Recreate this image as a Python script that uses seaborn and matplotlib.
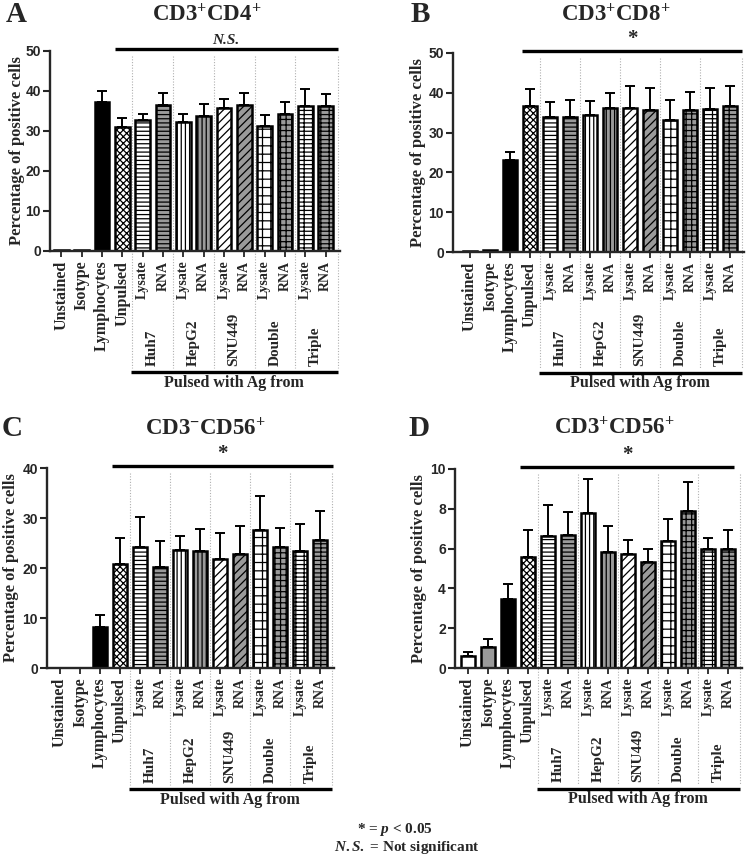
import numpy as np
import matplotlib.pyplot as plt
import seaborn as sns

sns.set_theme(style='ticks')
plt.rcParams['font.family'] = ['Liberation Serif', 'DejaVu Serif']
plt.rcParams['font.weight'] = 'bold'
plt.rcParams['mathtext.fontset'] = 'custom'
plt.rcParams['mathtext.rm'] = 'Liberation Serif:bold'
plt.rcParams['mathtext.it'] = 'Liberation Serif:italic:bold'
plt.rcParams['mathtext.bf'] = 'Liberation Serif:bold'
plt.rcParams['hatch.linewidth'] = 0.9

# data
categories = ['Unstained', 'Isotype', 'Lymphocytes', 'Unpulsed',
              'Huh7 Lysate', 'Huh7 RNA', 'HepG2 Lysate', 'HepG2 RNA',
              'SNU449 Lysate', 'SNU449 RNA', 'Double Lysate', 'Double RNA',
              'Triple Lysate', 'Triple RNA']
tick_labels = ['Unstained', 'Isotype', 'Lymphocytes', 'Unpulsed'] + ['Lysate', 'RNA'] * 5
groups = ['Huh7', 'HepG2', 'SNU449', 'Double', 'Triple']

cd4_mean = [0.2, 0.3, 37.3, 31.0, 32.7, 36.4, 32.3, 33.8, 35.8, 36.6, 31.3, 34.3, 36.3, 36.2]
cd4_sd = [0, 0, 2.7, 2.3, 1.6, 3.1, 2.0, 2.9, 2.3, 3.0, 2.6, 3.0, 4.3, 3.0]

cd8_mean = [0.2, 0.4, 23.1, 36.6, 33.8, 33.9, 34.5, 36.3, 36.3, 35.6, 33.1, 35.8, 36.0, 36.6]
cd8_sd = [0, 0, 2.1, 4.4, 4.0, 4.4, 3.4, 3.7, 5.5, 5.6, 5.2, 4.5, 5.2, 5.2]

nk_mean = [0.1, 0.1, 8.2, 20.9, 24.3, 20.2, 23.7, 23.4, 21.9, 22.9, 27.7, 24.2, 23.4, 25.7]
nk_sd = [0, 0, 2.5, 5.1, 6.0, 5.3, 2.8, 4.5, 5.2, 5.6, 6.7, 3.9, 5.5, 5.8]

nkt_mean = [0.59, 1.07, 3.45, 5.58, 6.65, 6.67, 7.78, 5.83, 5.75, 5.32, 6.4, 7.87, 6.0, 5.98]
nkt_sd = [0.19, 0.37, 0.75, 1.34, 1.55, 1.16, 1.72, 1.32, 0.67, 0.68, 1.08, 1.46, 0.55, 0.94]

gray = '#9a9a9a'
fills = ['white', gray, 'black', 'white'] + ['white', gray] * 5
hatches = ['', '', '', 'xxxxx', '----', '----', '||||', '||||',
           '////', '////', '++', '+++', '----||', '----||']

W, H = 748, 859
fig = plt.figure(figsize=(W / 100, H / 100), dpi=100)


def fx(p):
    return p / W


def fy(p):
    return 1 - p / H


def draw_panel(box, xleft, mean, sd, yticks, sig_text, sig_end, label_gap):
    l, t, r, b = box
    ax = fig.add_axes([fx(l), fy(b), (r - l) / W, (b - t) / H])
    sns.barplot(x=categories, y=mean, color='white', edgecolor='black',
                linewidth=1.8, width=0.72, errorbar=None, ax=ax)
    for bar, fc, h in zip(ax.patches, fills, hatches):
        bar.set_facecolor(fc)
        bar.set_hatch(h)
    sd = np.array(sd)
    pos = np.arange(len(categories))
    keep = sd > 0
    ax.errorbar(pos[keep], np.array(mean)[keep],
                yerr=[np.zeros(keep.sum()), sd[keep]], fmt='none',
                ecolor='black', elinewidth=1.4, capsize=3.5, capthick=1.4,
                zorder=0.9)
    ax.set_xlim(xleft, 13.7)
    ax.set_ylim(0, yticks[-1])
    ax.set_yticks(yticks)
    ax.set_yticklabels([str(v) for v in yticks], fontfamily='Liberation Sans',
                       fontweight='bold', fontsize=10)
    ax.set_xticks(pos)
    ax.set_xticklabels(tick_labels, rotation=90, fontsize=11.5, fontweight='bold')
    for lab in ax.get_xticklabels()[4:]:
        lab.set_fontsize(10)
    ax.tick_params(axis='y', length=5, width=1.5, pad=1.5)
    ax.tick_params(axis='x', length=4, width=1.3, pad=3)
    for s in ['left', 'bottom']:
        ax.spines[s].set_linewidth(1.7)
    sns.despine(ax=ax)
    ax.set_ylabel('Percentage of positive cells', fontsize=12, fontweight='bold')
    ax.yaxis.set_label_coords(-label_gap / (r - l), 0.5)
    tr = ax.get_xaxis_transform()
    # dotted group separators
    for xs in [3.5, 5.5, 7.5, 9.5, 11.5, 13.6]:
        ax.plot([xs, xs], [0.975, -0.585], transform=tr, color='#b0b0b0',
                lw=0.8, ls=(0, (1, 1.5)), clip_on=False, zorder=0)
    # group names
    for i, g in enumerate(groups):
        ax.text(4.5 + 2 * i, -0.575, g, transform=tr, rotation=90, ha='center',
                va='bottom', fontsize=11, fontweight='bold')
    ax.plot([3.45, 13.6], [-0.607, -0.607], transform=tr, color='black',
            lw=2.4, clip_on=False, solid_capstyle='butt')
    ax.text(8.5, -0.66, 'Pulsed with Ag from', transform=tr, ha='center',
            va='center', fontsize=11.5, fontweight='bold')
    # significance line
    ax.plot([2.62, sig_end], [1.012, 1.012], transform=tr, color='black',
            lw=2.4, clip_on=False, solid_capstyle='butt')
    if sig_text == '*':
        ax.text((2.62 + sig_end) / 2, 1.02, '*', transform=tr, ha='center',
                va='bottom', fontsize=15, fontweight='bold')
    else:
        ax.text((2.62 + sig_end) / 2, 1.02, sig_text, transform=tr, ha='center',
                va='bottom', fontsize=11, fontweight='bold', fontstyle='italic')
    return ax


draw_panel((50, 51, 340, 251), -0.55, cd4_mean, cd4_sd, [0, 10, 20, 30, 40, 50], 'N.S.', 13.6, 25)
draw_panel((453, 53, 744, 252), -0.85, cd8_mean, cd8_sd, [0, 10, 20, 30, 40, 50], '*', 13.62, 27)
draw_panel((47, 468, 334, 668), -0.65, nk_mean, nk_sd, [0, 10, 20, 30, 40], '*', 13.65, 28)
draw_panel((455, 469, 742, 668), -0.65, nkt_mean, nkt_sd, [0, 2, 4, 6, 8, 10], '*', 13.3, 28)

# panel letters and titles
for letter, x, y in [('A', 16, 15), ('B', 420, 15), ('C', 12, 428), ('D', 419, 428)]:
    fig.text(fx(x), fy(y), letter, ha='center', va='center', fontsize=21, fontweight='bold')
titles = [r'CD3$^{+}$CD4$^{+}$', r'CD3$^{+}$CD8$^{+}$', r'CD3$^{-}$CD56$^{+}$', r'CD3$^{+}$CD56$^{+}$']
for txt, x, y in zip(titles, [207, 616, 205, 614], [15, 15, 429, 428]):
    fig.text(fx(x), fy(y), txt, ha='center', va='center', fontsize=16.5, fontweight='bold')

fig.text(fx(395), fy(829), r'* = $p$ < 0.05', ha='center', va='center', fontsize=11, fontweight='bold')
fig.text(fx(407), fy(848), r'$N.S.$ = Not significant', ha='center', va='center', fontsize=11, fontweight='bold')

fig.savefig('out.png', dpi=100)
